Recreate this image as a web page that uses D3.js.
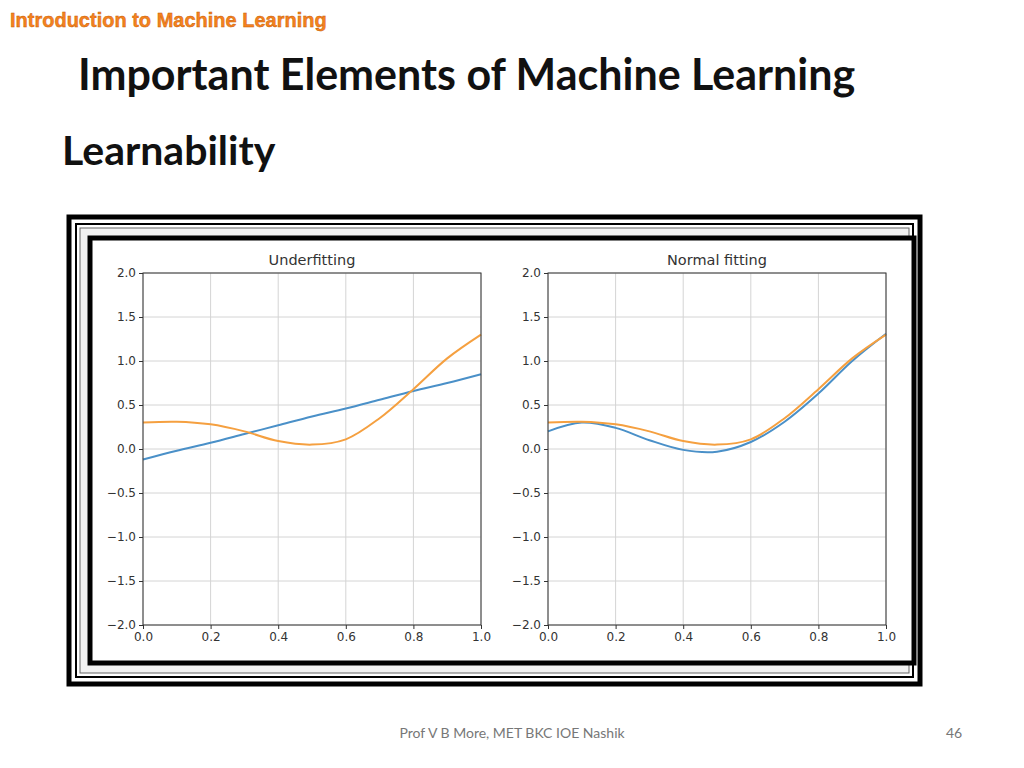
<!DOCTYPE html>
<html><head><meta charset="utf-8">
<script src="https://cdn.jsdelivr.net/npm/d3@7"></script>
<style>body{margin:0;background:#fff}</style></head>
<body><svg id="c" width="1024" height="768"></svg>
<script>
const xs = [0,0.1,0.2,0.3,0.4,0.5,0.6,0.7,0.8,0.9,1.0];
const trueY = [0.30,0.31,0.28,0.20,0.09,0.05,0.11,0.35,0.68,1.03,1.30];
const underY = [-0.12,-0.02,0.07,0.17,0.27,0.37,0.46,0.56,0.66,0.75,0.85];
const normalY = [0.20,0.30,0.24,0.10,-0.01,-0.03,0.08,0.31,0.63,1.00,1.31];
const xTicks = [0,0.2,0.4,0.6,0.8,1.0];
const yTicks = [-2,-1.5,-1,-0.5,0,0.5,1,1.5,2];
const panels = [
  {title:"Underfitting", left:143, series:[underY,trueY]},
  {title:"Normal fitting", left:548, series:[normalY,trueY]}
];
const colors = ["#4a90c8","#f5a040"];
const svg = d3.select("#c");
svg.append("text").attr("x",10).attr("y",27).attr("font-family","Liberation Sans, Arial").attr("font-weight","bold")
  .attr("font-size",20).attr("fill","#f58220").attr("stroke","#c55a00").attr("stroke-width",0.4).text("Introduction to Machine Learning");
svg.append("text").attr("x",78).attr("y",90).attr("font-family","Lato, Open Sans").attr("font-weight","bold")
  .attr("font-size",43).attr("fill","#111").text("Important Elements of Machine Learning");
svg.append("text").attr("x",62).attr("y",165).attr("font-family","Lato, Open Sans").attr("font-weight","bold")
  .attr("font-size",41).attr("fill","#111").text("Learnability");
svg.append("text").attr("x",512).attr("y",738).attr("text-anchor","middle").attr("font-family","Lato, Noto Sans")
  .attr("font-size",14).attr("fill","#777").text("Prof V B More, MET BKC IOE Nashik");
svg.append("text").attr("x",954).attr("y",738).attr("text-anchor","middle").attr("font-family","Lato, Noto Sans")
  .attr("font-size",14).attr("fill","#777").text("46");
svg.append("rect").attr("x",69).attr("y",217).attr("width",851).attr("height",467).attr("fill","#fff").attr("stroke","#000").attr("stroke-width",5);
svg.append("rect").attr("x",76).attr("y",224).attr("width",837).attr("height",453).attr("fill","none").attr("stroke","#000").attr("stroke-width",2);
svg.append("rect").attr("x",80).attr("y",228).attr("width",829).attr("height",445).attr("fill","#f2f2f2").attr("stroke","#666").attr("stroke-width",1);
svg.append("rect").attr("x",90).attr("y",238).attr("width",824).attr("height",425).attr("fill","#fff").attr("stroke","#000").attr("stroke-width",5);

const y = d3.scaleLinear().domain([-2,2]).range([625,273]);
panels.forEach(p=>{
  const x = d3.scaleLinear().domain([0,1]).range([p.left,p.left+338]);
  const g = svg.append("g");
  g.selectAll(".gx").data(xTicks).join("line").attr("x1",d=>x(d)).attr("x2",d=>x(d)).attr("y1",273).attr("y2",625).attr("stroke","#d4d4d4");
  g.selectAll(".gy").data(yTicks).join("line").attr("y1",d=>y(d)).attr("y2",d=>y(d)).attr("x1",x(0)).attr("x2",x(1)).attr("stroke","#d4d4d4");
  const line = d3.line().x((d,i)=>x(xs[i])).y(d=>y(d)).curve(d3.curveCatmullRom);
  p.series.forEach((s,i)=>g.append("path").attr("d",line(s)).attr("fill","none").attr("stroke",colors[i]).attr("stroke-width",2));
  g.append("rect").attr("x",x(0)).attr("y",273).attr("width",338).attr("height",352).attr("fill","none").attr("stroke","#333");
  const ax = g.append("g").attr("transform","translate(0,625)").call(d3.axisBottom(x).tickValues(xTicks).tickFormat(d3.format(".1f")).tickSize(4));
  const ay = g.append("g").attr("transform",`translate(${p.left},0)`).call(d3.axisLeft(y).tickValues(yTicks).tickFormat(d=>d3.format(".1f")(d).replace("-","\u2212")).tickSize(4));
  [ax,ay].forEach(a=>{a.select(".domain").remove();a.selectAll("text").attr("font-family","DejaVu Sans").attr("font-size",12).attr("fill","#333");a.selectAll("line").attr("stroke","#333");});
  g.append("text").attr("x",x(0.5)).attr("y",265).attr("text-anchor","middle").attr("font-family","DejaVu Sans").attr("font-size",14.5).attr("fill","#333").text(p.title);
});
</script></body></html>
